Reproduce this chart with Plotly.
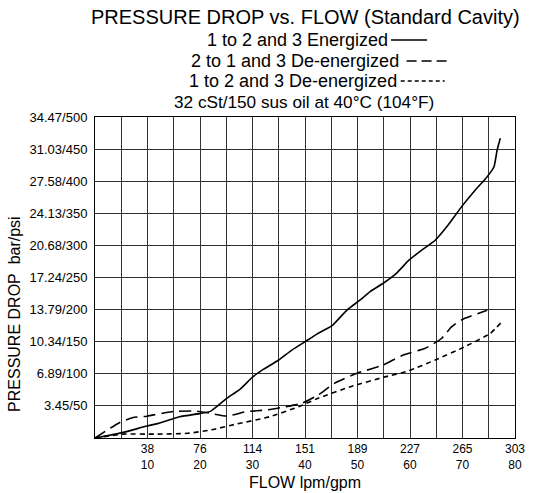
import plotly.graph_objects as go

# ---- data (x in gpm, y in psi) ----
energized_gpm = [0, 5.0, 9.9, 12.1, 16.1, 20.1, 22.0, 25.1, 27.6, 30.1, 31.9, 35.0, 37.5, 40.0, 42.5, 45.3,
                 46.8, 48.1, 50.5, 52.4, 54.9, 57.4, 59.8, 62.3, 64.8, 67.3, 69.8, 72.2, 74.7, 76.0, 76.6, 77.2]
energized_psi = [0, 8, 18.7, 22.8, 33, 38.4, 41.5, 61.7, 75.8, 95.5, 106, 121.5, 137, 150, 163, 176,
                 189, 200, 215, 228, 241, 256.5, 277, 293, 308, 332, 360, 384, 407, 422.6, 448.6, 467]

deenerg_21_gpm = [0, 4.65, 7.1, 9.9, 14.6, 18.9, 21.4, 25.1, 28.8, 32.6, 36.3, 39.4, 42.5, 45.6, 49.9,
                  54.9, 58.6, 62.9, 66.0, 67.9, 69.8, 74.7]
deenerg_21_psi = [0, 23.9, 31.6, 34, 41, 42, 39.4, 34, 41, 43.6, 48.8, 54, 67, 85, 100.8,
                  113.7, 129, 139.7, 155, 173, 184, 199]

deenerg_12_gpm = [0, 5.3, 11.5, 17.7, 22.0, 27.0, 33.2, 38.8, 42.5, 48.7, 54.9, 59.8, 64.8, 70.4, 75.3, 77.5]
deenerg_12_psi = [0, 6, 6, 7.3, 12.5, 21.8, 33, 48.8, 61.8, 80, 94.5, 104.8, 121.5, 142, 163, 181]

x_grid_gpm = [5 * i for i in range(1, 17)]
x_label_gpm = [10, 20, 30, 40, 50, 60, 70, 80]
x_label_lpm = ["38", "76", "114", "151", "189", "227", "265", "303"]

y_grid_psi = [50 * i for i in range(0, 11)]
y_labels = ["", "3.45/50", "6.89/100", "10.34/150", "13.79/200", "17.24/250",
            "20.68/300", "24.13/350", "27.58/400", "31.03/450", "34.47/500"]

title_text = "PRESSURE DROP vs. FLOW (Standard Cavity)"
legend_names = ["1 to 2 and 3 Energized", "2 to 1 and 3 De-energized", "1 to 2 and 3 De-energized"]
subtitle_text = "32 cSt/150 sus oil at 40°C (104°F)"
y_title = "PRESSURE DROP&nbsp; bar/psi"
x_title = "FLOW lpm/gpm"

FONT = "Liberation Sans, Arial, sans-serif"

# plot-area geometry in page pixels
L, R, T, B = 95, 525, 117, 438
W, H = R - L, B - T

x_ticktext = []
for g in x_grid_gpm:
    if g in x_label_gpm:
        i = x_label_gpm.index(g)
        x_ticktext.append(f"{x_label_lpm[i]}<br>{x_label_gpm[i]}")
    else:
        x_ticktext.append("")

fig = go.Figure()
styles = ["solid", "12px,6px", "5px,4px"]
series = [(energized_gpm, energized_psi), (deenerg_21_gpm, deenerg_21_psi), (deenerg_12_gpm, deenerg_12_psi)]
for (xs, ys), dash, name in zip(series, styles, legend_names):
    fig.add_trace(go.Scatter(x=xs, y=ys, mode="lines", name=name, showlegend=False, hoverinfo="skip",
                             line=dict(color="black", width=1.6, dash=dash, shape="spline", smoothing=0.5)))

fig.update_layout(
    width=534, height=493,
    margin=dict(l=L, r=534 - R, t=T, b=493 - B),
    paper_bgcolor="white", plot_bgcolor="white",
    font=dict(family=FONT, color="black", size=13),
    showlegend=False,
)
fig.update_xaxes(range=[0, 80], tickvals=x_grid_gpm, ticktext=x_ticktext, showgrid=True,
                 gridcolor="#333333", gridwidth=1, showline=True, linecolor="black", linewidth=1,
                 mirror=True, zeroline=False, ticks="", tickfont=dict(size=12),
                 ticklabeloverflow="allow")
fig.update_yaxes(range=[0, 500], tickvals=y_grid_psi, ticktext=y_labels, showgrid=True,
                 gridcolor="#333333", gridwidth=1, showline=True, linecolor="black", linewidth=1,
                 mirror=True, zeroline=False, ticks="", tickfont=dict(size=13),
                 ticklabelstandoff=4)


def px(x):
    return (x - L) / W


def py(y):
    return (B - y) / H


annotations = [
    dict(text=title_text, xref="paper", yref="paper", x=px(311), y=py(17), xanchor="center",
         yanchor="middle", showarrow=False, font=dict(size=20, family=FONT, color="black")),
    dict(text=subtitle_text, xref="paper", yref="paper", x=px(309), y=py(102), xanchor="center",
         yanchor="middle", showarrow=False, font=dict(size=17.2, family=FONT, color="black")),
]

# legend rows: text right edge, y center, sample start, sample end
leg_rows = [(397, 40, 398, 435), (408, 61, 414, 457), (406, 81, 408, 453)]
shapes = []
for name, dd, (tx, ty, sx0, sx1) in zip(legend_names, ["solid", "10px,5px", "4px,3px"], leg_rows):
    annotations.append(dict(text=name, xref="paper", yref="paper", x=px(tx), y=py(ty),
                            xanchor="right", yanchor="middle", showarrow=False,
                            font=dict(size=18, family=FONT, color="black")))
    shapes.append(dict(type="line", xref="paper", yref="paper", x0=px(sx0), x1=px(sx1),
                       y0=py(ty), y1=py(ty), line=dict(color="black", width=1.6, dash=dd)))

annotations.append(dict(text=y_title, xref="paper", yref="paper", x=px(12), y=py(314),
                        xanchor="center", yanchor="middle", textangle=-90, showarrow=False,
                        font=dict(size=16, family=FONT, color="black")))
annotations.append(dict(text=x_title, xref="paper", yref="paper", x=px(310), y=py(483),
                        xanchor="center", yanchor="middle", showarrow=False,
                        font=dict(size=16, family=FONT, color="black")))

fig.update_layout(annotations=annotations, shapes=shapes)
fig.write_html("out.html", config={"displayModeBar": False},
               post_script="document.body.style.margin='0px';document.body.style.overflow='hidden';")
